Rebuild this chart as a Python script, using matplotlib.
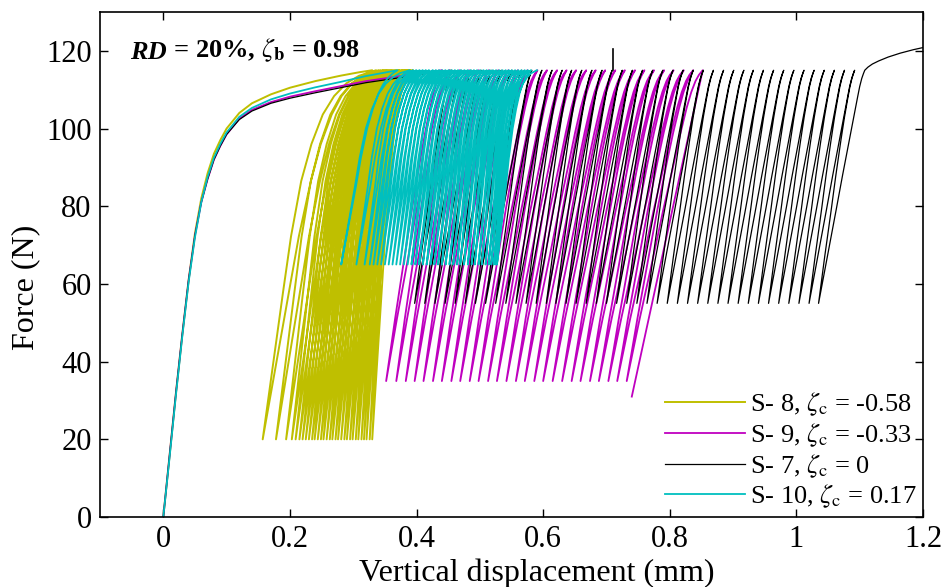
#cyclic loading curves, force vs vertical displacement, RD = 20%

import numpy as np
import matplotlib
matplotlib.use('Agg')
import matplotlib.pyplot as plt

plt.rcParams['font.family'] = ['Liberation Serif', 'DejaVu Serif']
plt.rcParams['mathtext.fontset'] = 'stix'

# force limits of the cycles (N)
f_max = 115.0
s8_fmin = 20.0
s9_fmin = 35.0
s7_fmin = 55.0
s10_fmin = 65.0

# monotonic first loading (mm, N)
s8_bb_x = [0, 0.01, 0.02, 0.03, 0.04, 0.05, 0.06, 0.07, 0.08, 0.09, 0.10, 0.12, 0.14, 0.17, 0.20, 0.24, 0.28, 0.31, 0.33]
s8_bb_f = [0, 16, 32, 47, 61, 73, 82, 88.5, 93.5, 97, 100, 104, 106.5, 108.8, 110.5, 112.2, 113.6, 114.5, 115]
s9_bb_x = [0, 0.01, 0.02, 0.03, 0.04, 0.05, 0.06, 0.07, 0.08, 0.09, 0.10, 0.12, 0.14, 0.17, 0.20, 0.24, 0.28, 0.32, 0.37, 0.41, 0.44]
s9_bb_f = [0, 16, 32, 47, 61, 72.5, 81, 87, 92, 95.5, 98.5, 102.5, 104.8, 106.8, 108.2, 109.6, 110.9, 112.2, 113.4, 114.3, 115]
s7_bb_x = [0, 0.01, 0.02, 0.03, 0.04, 0.05, 0.06, 0.07, 0.08, 0.09, 0.10, 0.12, 0.14, 0.17, 0.20, 0.24, 0.28, 0.32, 0.37, 0.41, 0.455]
s7_bb_f = [0, 16, 32, 47, 61, 72.5, 81, 87, 92, 95.5, 98.5, 102.3, 104.5, 106.5, 107.8, 109.2, 110.5, 111.8, 113, 114, 115]
s10_bb_x = [0, 0.01, 0.02, 0.03, 0.04, 0.05, 0.06, 0.07, 0.08, 0.09, 0.10, 0.12, 0.14, 0.17, 0.20, 0.24, 0.28, 0.32, 0.37]
s10_bb_f = [0, 15.5, 31.5, 46.5, 60.5, 72, 81, 87.5, 92.5, 96, 99, 103, 105.3, 107.5, 109, 110.6, 112, 113.5, 115]

# displacement at the top (peaks) and bottom (troughs) of each cycle (mm)
s8_peaks = [0.330, 0.336, 0.340, 0.343, 0.346, 0.348, 0.350, 0.352, 0.354, 0.356, 0.358,
            0.360, 0.362, 0.364, 0.366, 0.368, 0.370, 0.372, 0.373, 0.375, 0.377, 0.378,
            0.380, 0.381, 0.383, 0.384, 0.386, 0.387, 0.389, 0.390, 0.392, 0.394]
s8_troughs = [0.157, 0.178, 0.194, 0.203, 0.209, 0.215, 0.220, 0.225, 0.230, 0.235, 0.239,
              0.244, 0.249, 0.253, 0.258, 0.263, 0.267, 0.272, 0.276, 0.281, 0.286, 0.290,
              0.295, 0.299, 0.304, 0.308, 0.313, 0.317, 0.321, 0.326, 0.330]
s9_peaks = [0.440, 0.452, 0.468, 0.483, 0.498, 0.514, 0.529, 0.545, 0.560, 0.575, 0.591,
            0.606, 0.622, 0.637, 0.652, 0.668, 0.683, 0.698, 0.714, 0.729, 0.745, 0.760,
            0.775, 0.791, 0.806, 0.822, 0.837, 0.852]
s9_troughs = [0.352, 0.368, 0.383, 0.397, 0.411, 0.426, 0.440, 0.455, 0.469, 0.484, 0.498,
              0.513, 0.527, 0.542, 0.557, 0.571, 0.586, 0.600, 0.615, 0.630, 0.645, 0.659,
              0.674, 0.688, 0.703, 0.717, 0.732]
s9_end = (0.740, 31.0)
s7_peaks = [0.455, 0.470, 0.486, 0.502, 0.518, 0.534, 0.550, 0.566, 0.582, 0.598, 0.614,
            0.630, 0.645, 0.661, 0.677, 0.693, 0.709, 0.725, 0.741, 0.757, 0.773, 0.789,
            0.805, 0.821, 0.837, 0.853, 0.869, 0.885, 0.901, 0.917, 0.932, 0.948, 0.964,
            0.980, 0.996, 1.012, 1.028, 1.044, 1.060, 1.076, 1.092, 1.108]
s7_troughs = [0.397, 0.413, 0.429, 0.445, 0.461, 0.477, 0.493, 0.509, 0.525, 0.541, 0.557,
              0.573, 0.589, 0.605, 0.620, 0.636, 0.652, 0.668, 0.684, 0.700, 0.716, 0.732,
              0.748, 0.764, 0.780, 0.796, 0.812, 0.828, 0.844, 0.860, 0.876, 0.892, 0.908,
              0.924, 0.940, 0.956, 0.972, 0.988, 1.004, 1.020, 1.035]
s7_tail_x = [1.108, 1.113, 1.120, 1.130, 1.145, 1.164, 1.185, 1.21]
s7_tail_f = [115, 115.8, 116.6, 117.4, 118.4, 119.4, 120.3, 121.2]
s7_spike_x = [0.71, 0.71]
s7_spike_f = [115, 120.5]
s10_peaks = [0.370, 0.389, 0.395, 0.400, 0.405, 0.410, 0.415, 0.420, 0.426, 0.431, 0.436,
             0.441, 0.446, 0.451, 0.456, 0.461, 0.466, 0.471, 0.476, 0.481, 0.486, 0.491,
             0.496, 0.501, 0.506, 0.511, 0.516, 0.521, 0.526, 0.531, 0.536, 0.541, 0.546,
             0.551, 0.556, 0.561, 0.566, 0.571, 0.576, 0.581, 0.590]
s10_troughs = [0.281, 0.305, 0.318, 0.326, 0.332, 0.338, 0.344, 0.350, 0.356, 0.362, 0.368,
               0.374, 0.380, 0.386, 0.392, 0.398, 0.404, 0.410, 0.416, 0.422, 0.428, 0.434,
               0.440, 0.446, 0.452, 0.458, 0.464, 0.469, 0.475, 0.481, 0.487, 0.492, 0.498,
               0.503, 0.509, 0.514, 0.518, 0.522, 0.525, 0.527]

# branch shapes read off the loops: fraction of force range (knot_t)
# vs fraction of displacement from the trough, for reloading and unloading
knot_t = [0, 0.2, 0.4, 0.55, 0.7, 0.8, 0.88, 0.93, 0.965, 0.985, 1.0]
s8_reload = [0, 0.09, 0.18, 0.25, 0.34, 0.43, 0.53, 0.63, 0.74, 0.85, 1.0]
s8_unload = [0, 0.12, 0.24, 0.33, 0.44, 0.53, 0.63, 0.72, 0.82, 0.91, 1.0]
s9_reload = [0, 0.17, 0.35, 0.48, 0.62, 0.71, 0.79, 0.85, 0.905, 0.95, 1.0]
s9_unload = [0, 0.16, 0.33, 0.46, 0.60, 0.70, 0.79, 0.855, 0.915, 0.96, 1.0]
s7_reload = [0, 0.19, 0.38, 0.52, 0.665, 0.76, 0.84, 0.89, 0.935, 0.97, 1.0]
s7_unload = [0, 0.17, 0.35, 0.48, 0.62, 0.72, 0.81, 0.87, 0.925, 0.965, 1.0]
s10_reload = [0, 0.10, 0.20, 0.27, 0.36, 0.45, 0.55, 0.65, 0.76, 0.86, 1.0]
s10_unload = [0, 0.13, 0.26, 0.35, 0.46, 0.56, 0.66, 0.75, 0.84, 0.92, 1.0]


def cycle_path(bb_x, bb_f, peaks, troughs, fmin, reload, unload):
    xs = list(bb_x)
    fs = list(bb_f)
    t = np.array(knot_t)
    r = np.array(reload)
    u = np.array(unload)
    force = fmin + (f_max - fmin) * t
    for i in range(len(troughs)):
        # unload peak i -> trough i
        xs += list((troughs[i] + (peaks[i] - troughs[i]) * u)[::-1][1:])
        fs += list(force[::-1][1:])
        # reload trough i -> peak i+1
        if i + 1 < len(peaks):
            xs += list((troughs[i] + (peaks[i + 1] - troughs[i]) * r)[1:])
            fs += list(force[1:])
    return xs, fs


s8_x, s8_f = cycle_path(s8_bb_x, s8_bb_f, s8_peaks, s8_troughs, s8_fmin, s8_reload, s8_unload)
s9_x, s9_f = cycle_path(s9_bb_x, s9_bb_f, s9_peaks, s9_troughs, s9_fmin, s9_reload, s9_unload)
s9_x += [s9_end[0]]
s9_f += [s9_end[1]]
s7_x, s7_f = cycle_path(s7_bb_x, s7_bb_f, s7_peaks, s7_troughs, s7_fmin, s7_reload, s7_unload)
s7_x += s7_tail_x[1:]
s7_f += s7_tail_f[1:]
s10_x, s10_f = cycle_path(s10_bb_x, s10_bb_f, s10_peaks, s10_troughs, s10_fmin, s10_reload, s10_unload)

fig = plt.figure(figsize=(9.46, 5.87), dpi=100)
ax = fig.add_axes([0.1057, 0.1192, 0.8700, 0.8604])

ax.plot(s8_x, s8_f, color=(0.75, 0.75, 0), lw=1.4, label=r'S- 8, $\zeta_{\rm c}$ = -0.58')
ax.plot(s9_x, s9_f, color=(0.75, 0, 0.75), lw=1.3, label=r'S- 9, $\zeta_{\rm c}$ = -0.33')
ax.plot(s7_x, s7_f, color='k', lw=0.9, label=r'S- 7, $\zeta_{\rm c}$ = 0')
ax.plot(s7_spike_x, s7_spike_f, color='k', lw=1.2)
ax.plot(s10_x, s10_f, color=(0, 0.75, 0.75), lw=1.3, label=r'S- 10, $\zeta_{\rm c}$ = 0.17')

ax.set_xlim(-0.1, 1.2)
ax.set_ylim(0, 130)
ax.set_xticks([0, 0.2, 0.4, 0.6, 0.8, 1, 1.2])
ax.set_xticklabels(['0', '0.2', '0.4', '0.6', '0.8', '1', '1.2'])
ax.set_yticks([0, 20, 40, 60, 80, 100, 120])
ax.tick_params(direction='in', top=True, right=True, length=6, width=1, labelsize=22, pad=6)
for sp in ax.spines.values():
    sp.set_linewidth(1.2)

ax.set_xlabel('Vertical displacement (mm)', fontsize=23)
ax.set_ylabel('Force (N)', fontsize=23)
ax.xaxis.set_label_coords(0.531, -0.083)
ax.yaxis.set_label_coords(-0.073, 0.455)

t1 = ax.text(-0.052, 118.0, 'RD', fontsize=19, fontweight='bold', fontstyle='italic', va='baseline')
ax.annotate(r' = 20%, $\zeta_{\mathbf{b}}$ = 0.98', xy=(1, 0), xycoords=t1, va='bottom',
            fontsize=19, fontweight='bold')

ax.legend(loc='lower right', frameon=False, fontsize=19, handlelength=3.0, handletextpad=0.2,
          labelspacing=0.12, borderaxespad=0.1, borderpad=0.15)

fig.savefig('out.png', dpi=100)
